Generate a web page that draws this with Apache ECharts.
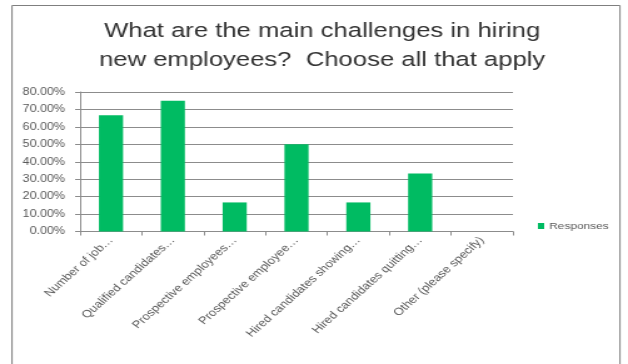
<!DOCTYPE html>
<html>
<head>
<meta charset="utf-8">
<script src="https://cdn.jsdelivr.net/npm/echarts@6/dist/echarts.min.js"></script>
<style>
  html, body { margin: 0; padding: 0; background: #fff; overflow: hidden; }
  /* drawn narrow, then widened so the lettering has the broad look of the export */
  #chart { width: 502px; height: 364px; transform: scaleX(1.251); transform-origin: 0 0; }
</style>
</head>
<body>
<div id="chart"></div>
<script>
// Survey answers: share of respondents choosing each hiring challenge
const categories = [
  'Number of job…',
  'Qualified candidates…',
  'Prospective employees…',
  'Prospective employee…',
  'Hired candidates showing…',
  'Hired candidates quitting…',
  'Other (please specify)'
];
const responses = [0.6667, 0.75, 0.1667, 0.50, 0.1667, 0.3333, 0];
const seriesName = 'Responses';
const titleLines = ['What are the main challenges in hiring', 'new employees?  Choose all that apply'];

const chart = echarts.init(document.getElementById('chart'));
chart.setOption({
  backgroundColor: '#fff',
  animation: false,
  textStyle: { fontFamily: 'Liberation Sans, Arial, sans-serif' },
  graphic: [{
    type: 'rect',
    shape: { x: 9.6, y: 5.5, width: 486, height: 400 },
    style: { fill: 'none', stroke: '#7f7f7f', lineWidth: 1 },
    silent: true
  }],
  title: {
    text: titleLines.join('\n'),
    left: 252.5,
    top: 12,
    textAlign: 'center',
    textStyle: { fontSize: 20.5, fontWeight: 'normal', color: '#333', lineHeight: 29 }
  },
  legend: {
    data: [seriesName],
    left: 425,
    top: 216,
    itemWidth: 5,
    itemHeight: 6,
    itemGap: 4,
    icon: 'rect',
    textStyle: { fontSize: 9.5, color: '#595959', padding: [0, 0, 0, -1] }
  },
  grid: { left: 64, right: 92, top: 92, bottom: 132.5 },
  xAxis: {
    type: 'category',
    data: categories,
    axisLine: { lineStyle: { color: '#8c8c8c' } },
    axisTick: { show: true, length: 4, lineStyle: { color: '#8c8c8c' } },
    axisLabel: { rotate: 48, fontSize: 10.5, color: '#595959', margin: 7, interval: 0 }
  },
  yAxis: {
    type: 'value',
    min: 0,
    max: 0.8,
    interval: 0.1,
    axisLine: { show: true, lineStyle: { color: '#8c8c8c' } },
    axisTick: { show: true, length: 4, lineStyle: { color: '#8c8c8c' } },
    axisLabel: {
      fontSize: 10,
      color: '#595959',
      margin: 12,
      formatter: v => (v * 100).toFixed(2) + '%'
    },
    splitLine: { lineStyle: { color: '#8c8c8c' } }
  },
  series: [{
    name: seriesName,
    type: 'bar',
    data: responses,
    barWidth: '39%',
    itemStyle: { color: '#00bb62' }
  }]
});
</script>
</body>
</html>
